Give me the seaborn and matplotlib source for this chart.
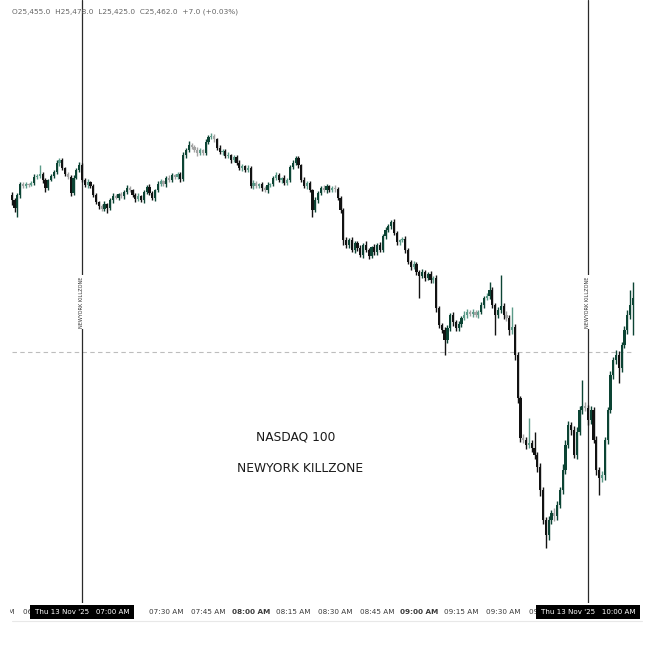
import numpy as np
import pandas as pd
import matplotlib
matplotlib.use("Agg")
import matplotlib.pyplot as plt
import seaborn as sns
from matplotlib.transforms import blended_transform_factory, IdentityTransform, Bbox
from matplotlib.lines import Line2D

# ---------------- data (1-minute candles, 06:35 -> 10:16) ----------------
first_open = 25565
closes = [
    25560, 25552, 25565, 25576, 25574, 25576, 25575, 25577, 25583, 25584,
    25586, 25580, 25572, 25580, 25584, 25588, 25597, 25600, 25592, 25586,
    25583, 25567, 25582, 25590, 25595, 25580, 25575, 25578, 25574, 25565,
    25558, 25554, 25551, 25556, 25552, 25560, 25564, 25562, 25566, 25564,
    25568, 25572, 25570, 25565, 25561, 25564, 25560, 25568, 25573, 25567,
    25562, 25570, 25576, 25579, 25576, 25582, 25580, 25585, 25583, 25586,
    25581, 25605, 25610, 25615, 25613, 25610, 25607, 25610, 25607, 25618,
    25623, 25624, 25621, 25612, 25608, 25609, 25604, 25605, 25600, 25603,
    25597, 25592, 25594, 25590, 25592, 25574, 25577, 25574, 25576, 25572,
    25570, 25575, 25576, 25582, 25585, 25580, 25582, 25577, 25580, 25593,
    25597, 25602, 25595, 25580, 25574, 25577, 25570, 25550, 25560, 25567,
    25572, 25570, 25574, 25570, 25572, 25571, 25562, 25550, 25520, 25515,
    25520, 25510, 25517, 25512, 25505, 25515, 25510, 25504, 25513, 25508,
    25515, 25510, 25524, 25530, 25534, 25538, 25527, 25518, 25520, 25521,
    25510, 25498, 25493, 25496, 25488, 25484, 25488, 25482, 25486, 25480,
    25482, 25452, 25435, 25430, 25420, 25432, 25445, 25438, 25432, 25436,
    25442, 25445, 25448, 25446, 25448, 25445, 25448, 25455, 25462, 25464,
    25470, 25455, 25445, 25450, 25454, 25445, 25442, 25430, 25433, 25405,
    25362, 25322, 25320, 25315, 25317, 25312, 25305, 25293, 25270, 25240,
    25225, 25240, 25247, 25244, 25255, 25270, 25290, 25315, 25335, 25330,
    25305, 25328, 25350, 25354, 25352, 25340, 25350, 25320, 25290, 25282,
    25285, 25320, 25350, 25385, 25400, 25405, 25392, 25415, 25430, 25445,
    25455, 25462,
]
upper_wick = [
    3, 2, 2, 2, 2, 2, 1, 2, 3, 2,
    9, 2, 2, 1, 2, 2, 3, 2, 2, 1,
    2, 2, 3, 2, 3, 2, 2, 3, 1, 2,
    2, 1, 2, 3, 1, 2, 3, 2, 1, 2,
    2, 3, 2, 1, 2, 3, 1, 2, 2, 3,
    2, 1, 3, 2, 1, 2, 3, 2, 1, 2,
    2, 3, 2, 4, 2, 2, 3, 2, 1, 3,
    2, 3, 2, 1, 3, 2, 2, 3, 1, 2,
    2, 3, 2, 1, 3, 2, 3, 2, 1, 2,
    2, 3, 1, 2, 3, 2, 1, 3, 2, 2,
    3, 2, 2, 1, 3, 2, 2, 1, 3, 2,
    2, 3, 2, 1, 2, 3, 2, 2, 2, 3,
    2, 3, 2, 2, 3, 2, 4, 2, 1, 3,
    2, 3, 2, 3, 2, 2, 3, 2, 1, 2,
    3, 2, 2, 3, 2, 2, 3, 2, 2, 3,
    2, 3, 2, 2, 3, 3, 2, 3, 2, 3,
    2, 4, 3, 2, 3, 2, 2, 3, 2, 3,
    8, 3, 2, 3, 31, 3, 4, 3, 20, 3,
    3, 2, 4, 3, 25, 3, 16, 3, 4, 3,
    3, 4, 3, 5, 4, 3, 6, 5, 4, 3,
    4, 5, 4, 26, 4, 3, 4, 3, 4, 3,
    4, 3, 3, 4, 3, 5, 4, 3, 4, 5,
    15, 16,
]
lower_wick = [
    5, 4, 9, 3, 2, 2, 2, 1, 2, 2,
    2, 3, 4, 2, 1, 2, 2, 3, 2, 2,
    2, 3, 2, 1, 2, 2, 2, 3, 2, 2,
    2, 3, 2, 2, 5, 2, 3, 1, 2, 2,
    3, 2, 2, 2, 3, 2, 2, 3, 2, 2,
    2, 3, 2, 2, 2, 3, 2, 2, 2, 2,
    3, 2, 3, 2, 2, 2, 3, 2, 2, 2,
    2, 2, 3, 2, 2, 3, 2, 2, 3, 2,
    2, 2, 3, 2, 2, 2, 3, 2, 2, 3,
    2, 3, 2, 2, 2, 2, 3, 2, 2, 2,
    2, 2, 3, 2, 2, 3, 2, 7, 2, 3,
    2, 2, 3, 2, 2, 3, 2, 3, 5, 3,
    3, 2, 3, 3, 2, 3, 2, 3, 2, 3,
    3, 2, 2, 3, 2, 3, 2, 3, 3, 2,
    3, 2, 3, 2, 3, 22, 2, 3, 2, 3,
    3, 4, 3, 3, 15, 3, 3, 4, 3, 3,
    3, 2, 3, 2, 3, 2, 3, 2, 3, 2,
    3, 3, 20, 3, 3, 4, 3, 5, 4, 5,
    5, 4, 3, 4, 3, 4, 4, 5, 6, 4,
    13, 5, 4, 5, 4, 3, 4, 4, 3, 5,
    3, 4, 3, 4, 3, 5, 4, 3, 5, 17,
    4, 5, 4, 3, 4, 4, 15, 4, 3, 4,
    4, 30,
]
tick_pos = [-5, 10, 55, 70, 85, 100, 115, 130, 145, 160, 175, 190]
tick_labels = ["06:30 AM", "06:45 AM", "07:30 AM", "07:45 AM", "08:00 AM", "08:15 AM",
               "08:30 AM", "08:45 AM", "09:00 AM", "09:15 AM", "09:30 AM", "09:45 AM"]
bold_labels = ["08:00 AM", "09:00 AM"]
killzone_pos = [25, 205]
killzone_dates = ["Thu 13 Nov '25   07:00 AM", "Thu 13 Nov '25   10:00 AM"]
level_price = 25408
header = "O25,455.0  H25,478.0  L25,425.0  C25,462.0  +7.0 (+0.03%)"
title_lines = ["NASDAQ 100", "NEWYORK KILLZONE"]

# ---------------- build frame ----------------
n = len(closes)
df = pd.DataFrame({"i": np.arange(n), "close": closes})
df["open"] = [first_open] + closes[:-1]
df["top"] = df[["open", "close"]].max(axis=1)
df["bot"] = df[["open", "close"]].min(axis=1)
df["high"] = df["top"] + np.array(upper_wick)
df["low"] = df["bot"] - np.array(lower_wick)
df["up"] = df["close"] >= df["open"]
df["body"] = (df["top"] - df["bot"]).clip(lower=1.0)


def candle_color(row):
    big = (row["top"] - row["bot"]) >= 4
    if row["up"]:
        return "#0c4434" if big else "#5b9a88"
    return "#121212" if big else "#a3a3a3"


df["color"] = df.apply(candle_color, axis=1)

# ---------------- figure ----------------
sns.set_theme(style="white")
plt.rcParams["font.family"] = ["DejaVu Sans"]
W, H = 669, 662
fig = plt.figure(figsize=(W / 100, H / 100), dpi=100)
fig.patch.set_facecolor("white")
ax_bottom_px = 603
ax = fig.add_axes([0, 1 - ax_bottom_px / H, 1, ax_bottom_px / H])
ax.set_facecolor("white")

px_per_bar = 2.811
x0_px = 11.7
ax.set_xlim(-x0_px / px_per_bar, (W - x0_px) / px_per_bar)
ax.set_ylim(25760 - ax_bottom_px, 25760)

# horizontal dashed level
ax.hlines(level_price, 0, n - 1, colors="#bdbdbd", linestyles=(0, (4, 3)), lw=0.8, zorder=1)

# wicks & bodies
ax.vlines(df["i"], df["low"], df["high"], colors=df["color"], lw=1.0, zorder=3)
ax.bar(df["i"], df["body"], bottom=df["bot"], width=0.78, color=df["color"],
       linewidth=0, zorder=4)

# killzone vertical lines
for p in killzone_pos:
    ax.axvline(p, color="#2a2a2a", lw=0.9, zorder=2)
    ax.text(p, 25760 - 302, "NEWYORK KILLZONE", rotation=90, fontsize=3.6,
            color="#333333", ha="center", va="center", zorder=6,
            bbox=dict(boxstyle="square,pad=0.25", fc="white", ec="none"))

ax.set_xticks([])
ax.set_yticks([])
sns.despine(ax=ax, left=True, bottom=True, top=True, right=True)

# x labels (time scale area starts a few pixels in from the left edge)
trans = blended_transform_factory(ax.transData, fig.transFigure)
lab_y = 1 - 612 / H
scale_clip = Bbox.from_extents(10, 0, W, H)
for p, lab in zip(tick_pos, tick_labels):
    t = ax.text(p, lab_y, lab, transform=trans, fontsize=5.2, color="#3a3a3a",
                ha="center", va="center", zorder=5,
                fontweight="bold" if lab in bold_labels else "normal")
    t.set_clip_box(scale_clip)
    t.set_clip_on(True)
for p, lab in zip(killzone_pos, killzone_dates):
    ax.text(p, lab_y, lab, transform=trans, fontsize=5.1, color="white",
            ha="center", va="center", clip_on=False, zorder=10,
            bbox=dict(boxstyle="square,pad=0.6", fc="black", ec="none"))

# bottom separator
fig.add_artist(Line2D([12 / W, 642 / W], [1 - 621 / H, 1 - 621 / H],
                      color="#e8e8e8", lw=0.8))

# header
fig.text(12 / W, 1 - 12 / H, header, fontsize=5.3, color="#666666",
         ha="left", va="center")

# center text
tr_center = blended_transform_factory(IdentityTransform(), ax.transData)
ax.text(296, 25760 - 437, title_lines[0], transform=tr_center,
        fontsize=8.8, color="#1a1a1a", ha="center", va="center")
ax.text(300, 25760 - 469, title_lines[1], transform=tr_center,
        fontsize=8.8, color="#1a1a1a", ha="center", va="center")

fig.savefig("out.png", dpi=100, facecolor="white")
